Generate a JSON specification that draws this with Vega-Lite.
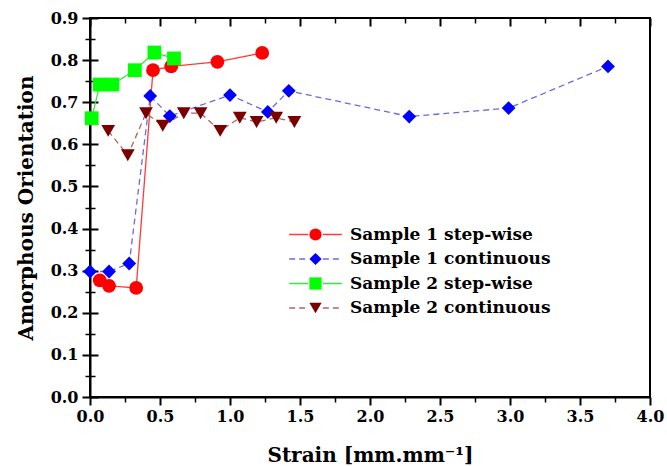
{
  "$schema": "https://vega.github.io/schema/vega-lite/v6.json",
  "autosize": "none",
  "width": 560,
  "height": 379,
  "padding": {"left": 90, "top": 18, "right": 17, "bottom": 69},
  "background": "white",
  "config": {
    "view": {"stroke": "black", "strokeWidth": 2},
    "font": "DejaVu Serif",
    "axis": {"labelFont": "DejaVu Serif", "titleFont": "DejaVu Serif", "labelFontWeight": "bold", "titleFontWeight": "bold", "labelColor": "black", "titleColor": "black", "tickColor": "black", "domainColor": "black", "grid": false, "ticks": true, "labelFlush": false, "labelOverlap": false}
  },
  "data": {"values": [
    {"series": "Sample 1 step-wise", "x": 0.07, "y": 0.277},
    {"series": "Sample 1 step-wise", "x": 0.136, "y": 0.264},
    {"series": "Sample 1 step-wise", "x": 0.33, "y": 0.259},
    {"series": "Sample 1 step-wise", "x": 0.45, "y": 0.776},
    {"series": "Sample 1 step-wise", "x": 0.58, "y": 0.785},
    {"series": "Sample 1 step-wise", "x": 0.91, "y": 0.796},
    {"series": "Sample 1 step-wise", "x": 1.23, "y": 0.817},
    {"series": "Sample 1 continuous", "x": 0.0, "y": 0.298},
    {"series": "Sample 1 continuous", "x": 0.136, "y": 0.298},
    {"series": "Sample 1 continuous", "x": 0.28, "y": 0.317},
    {"series": "Sample 1 continuous", "x": 0.43, "y": 0.715},
    {"series": "Sample 1 continuous", "x": 0.57, "y": 0.667},
    {"series": "Sample 1 continuous", "x": 1.0, "y": 0.717},
    {"series": "Sample 1 continuous", "x": 1.27, "y": 0.677},
    {"series": "Sample 1 continuous", "x": 1.42, "y": 0.727},
    {"series": "Sample 1 continuous", "x": 2.28, "y": 0.666},
    {"series": "Sample 1 continuous", "x": 2.99, "y": 0.686},
    {"series": "Sample 1 continuous", "x": 3.7, "y": 0.785},
    {"series": "Sample 2 step-wise", "x": 0.012, "y": 0.662},
    {"series": "Sample 2 step-wise", "x": 0.07, "y": 0.742},
    {"series": "Sample 2 step-wise", "x": 0.16, "y": 0.742},
    {"series": "Sample 2 step-wise", "x": 0.32, "y": 0.776},
    {"series": "Sample 2 step-wise", "x": 0.46, "y": 0.818},
    {"series": "Sample 2 step-wise", "x": 0.6, "y": 0.804},
    {"series": "Sample 2 continuous", "x": 0.13, "y": 0.632},
    {"series": "Sample 2 continuous", "x": 0.27, "y": 0.574},
    {"series": "Sample 2 continuous", "x": 0.4, "y": 0.674},
    {"series": "Sample 2 continuous", "x": 0.52, "y": 0.644},
    {"series": "Sample 2 continuous", "x": 0.67, "y": 0.674},
    {"series": "Sample 2 continuous", "x": 0.79, "y": 0.674},
    {"series": "Sample 2 continuous", "x": 0.93, "y": 0.632},
    {"series": "Sample 2 continuous", "x": 1.07, "y": 0.663},
    {"series": "Sample 2 continuous", "x": 1.19, "y": 0.653},
    {"series": "Sample 2 continuous", "x": 1.33, "y": 0.663},
    {"series": "Sample 2 continuous", "x": 1.46, "y": 0.653}
  ]},
  "layer": [
    {
      "mark": {"type": "line", "strokeWidth": 1.3},
      "encoding": {
        "x": {"field": "x", "type": "quantitative", "scale": {"domain": [0, 4], "nice": false, "zero": false},
          "axis": {"orient": "bottom", "values": [0, 0.5, 1, 1.5, 2, 2.5, 3, 3.5, 4], "format": ".1f", "ticks": true, "tickSize": 8, "tickWidth": 2, "domain": true, "domainWidth": 2, "grid": true, "gridColor": "black", "gridWidth": 2, "gridDash": [8, 2000], "labelFontSize": 16, "labelPadding": 3, "title": "Strain [mm.mm⁻¹]", "titleFontSize": 20, "titlePadding": 21}},
        "y": {"field": "y", "type": "quantitative", "scale": {"domain": [0, 0.9], "nice": false, "zero": false},
          "axis": {"orient": "left", "values": [0, 0.1, 0.2, 0.3, 0.4, 0.5, 0.6, 0.7, 0.8, 0.9], "format": ".1f", "ticks": true, "tickSize": 8, "tickWidth": 2, "domain": true, "domainWidth": 2, "grid": true, "gridColor": "black", "gridWidth": 2, "gridDash": [8, 2000], "labelFontSize": 16, "labelPadding": 4, "title": "Amorphous Orientation", "titleFontSize": 20, "titlePadding": 14}},
        "stroke": {"field": "series", "type": "nominal",
          "scale": {"domain": ["Sample 2 continuous", "Sample 2 step-wise", "Sample 1 continuous", "Sample 1 step-wise"], "range": ["#a86868", "#3ae63a", "#6a6ae8", "#ff3a3a"]},
          "legend": {"orient": "none", "legendX": 217, "legendY": 208, "title": null, "values": ["Sample 1 step-wise", "Sample 1 continuous", "Sample 2 step-wise", "Sample 2 continuous"], "symbolType": "M-4.3,0H-1.2M1.2,0H4.3", "symbolSize": 150, "symbolStrokeWidth": 1.3, "labelFontSize": 17, "labelFont": "DejaVu Serif", "labelFontWeight": "bold", "labelColor": "transparent", "labelLimit": 0, "labelOffset": 26, "rowPadding": 6.5, "padding": 0}},
        "strokeDash": {"field": "series", "type": "nominal",
          "scale": {"domain": ["Sample 2 continuous", "Sample 2 step-wise", "Sample 1 continuous", "Sample 1 step-wise"], "range": [[6, 4], [1, 0], [6, 4], [1, 0]]},
          "legend": {"orient": "none", "legendX": 217, "legendY": 208, "title": null, "values": ["Sample 1 step-wise", "Sample 1 continuous", "Sample 2 step-wise", "Sample 2 continuous"], "symbolType": "M-4.3,0H-1.2M1.2,0H4.3", "symbolSize": 150, "symbolStrokeWidth": 1.3, "labelFontSize": 17, "labelFont": "DejaVu Serif", "labelFontWeight": "bold", "labelColor": "transparent", "labelLimit": 0, "labelOffset": 26, "rowPadding": 6.5, "padding": 0}},
        "order": {"field": "x", "type": "quantitative"}
      }
    },
    {
      "transform": [{"calculate": "datum.series", "as": "label"}],
      "mark": {"type": "point", "filled": true, "opacity": 1, "strokeWidth": 0, "size": 190},
      "encoding": {
        "x": {"field": "x", "type": "quantitative", "scale": {"domain": [0, 4], "nice": false, "zero": false},
          "axis": {"orient": "bottom", "values": [0.25, 0.75, 1.25, 1.75, 2.25, 2.75, 3.25, 3.75], "labels": false, "ticks": true, "tickSize": 5, "tickWidth": 1.5, "domain": false, "grid": true, "gridColor": "black", "gridWidth": 1.5, "gridDash": [5, 2000], "title": null}},
        "y": {"field": "y", "type": "quantitative", "scale": {"domain": [0, 0.9], "nice": false, "zero": false},
          "axis": {"orient": "left", "values": [0.05, 0.15, 0.25, 0.35, 0.45, 0.55, 0.65, 0.75, 0.85], "labels": false, "ticks": true, "tickSize": 5, "tickWidth": 1.5, "domain": false, "grid": true, "gridColor": "black", "gridWidth": 1.5, "gridDash": [5, 2000], "title": null}},
        "color": {"field": "label", "type": "nominal",
          "scale": {"domain": ["Sample 1 step-wise", "Sample 1 continuous", "Sample 2 step-wise", "Sample 2 continuous"], "range": ["#ff0000", "#0000ff", "#00ff00", "#7a0000"]},
          "legend": {"orient": "none", "legendX": 217, "legendY": 208, "title": null, "symbolSize": 150, "symbolStrokeWidth": 0, "labelFontSize": 17, "labelFont": "DejaVu Serif", "labelFontWeight": "bold", "labelColor": "black", "labelLimit": 0, "labelOffset": 26, "rowPadding": 6.5, "padding": 0}},
        "shape": {"field": "label", "type": "nominal",
          "scale": {"domain": ["Sample 1 step-wise", "Sample 1 continuous", "Sample 2 step-wise", "Sample 2 continuous"], "range": ["circle", "diamond", "square", "triangle-down"]},
          "legend": {"orient": "none", "legendX": 217, "legendY": 208, "title": null, "symbolSize": 150, "symbolStrokeWidth": 0, "labelFontSize": 17, "labelFont": "DejaVu Serif", "labelFontWeight": "bold", "labelColor": "black", "labelLimit": 0, "labelOffset": 26, "rowPadding": 6.5, "padding": 0}}
      }
    }
  ],
  "resolve": {"axis": {"x": "independent", "y": "independent"}}
}
